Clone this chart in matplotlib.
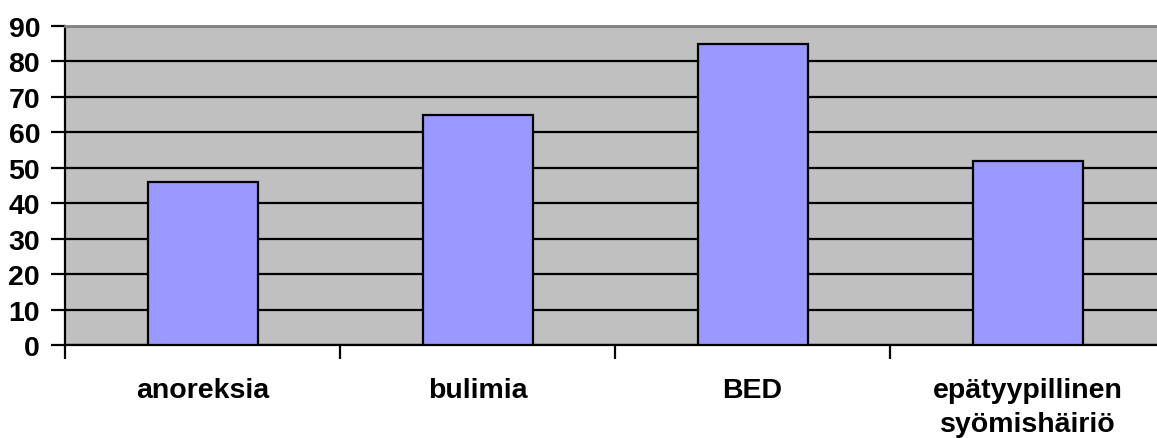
import matplotlib
matplotlib.use("Agg")
import matplotlib.pyplot as plt
import numpy as np

categories = ["anoreksia", "bulimia", "BED", "epätyypillinen\nsyömishäiriö"]
values = [46, 65, 85, 52]
yticks = [0, 10, 20, 30, 40, 50, 60, 70, 80, 90]

plt.rcParams['font.family'] = ['Liberation Sans', 'DejaVu Sans']
plt.rcParams['font.weight'] = 'bold'

fig = plt.figure(figsize=(11.57, 4.39), dpi=100)
W, H = 1157, 439
ax = fig.add_axes([65/W, (H-346)/H, (W-65)/W, (346-27)/H])
ax.set_facecolor('#C0C0C0')

x = np.arange(len(categories))
ax.bar(x, values, width=0.4, color='#9999FF', edgecolor='black', linewidth=1.6, zorder=3)

ax.set_yticks(yticks)
ax.yaxis.grid(True, color='black', linewidth=1.6, zorder=1)
ax.set_axisbelow(True)

ax.set_xticks(x)
ax.set_xticklabels(categories, fontsize=20.5, fontweight='bold', linespacing=1.4)
ax.set_xticks(np.arange(-0.5, len(categories)), minor=True)
ax.tick_params(axis='x', which='major', length=0, pad=23)
ax.tick_params(axis='x', which='minor', length=10, width=1.6, color='black')
ax.tick_params(axis='y', length=10, width=1.6, labelsize=20.5, pad=8)
for lab in ax.get_yticklabels():
    lab.set_fontweight('bold')

# axes run a bit past the right edge of the image
ax.set_xlim(-0.5, -0.5 + (W-65)/275)
ax.set_ylim(0, 90)

ax.spines['left'].set_linewidth(1.6)
ax.spines['bottom'].set_linewidth(1.6)
ax.spines['top'].set_color('#808080')
ax.spines['top'].set_linewidth(2)
ax.spines['right'].set_visible(False)

fig.savefig('out.png', dpi=100, facecolor='white')
